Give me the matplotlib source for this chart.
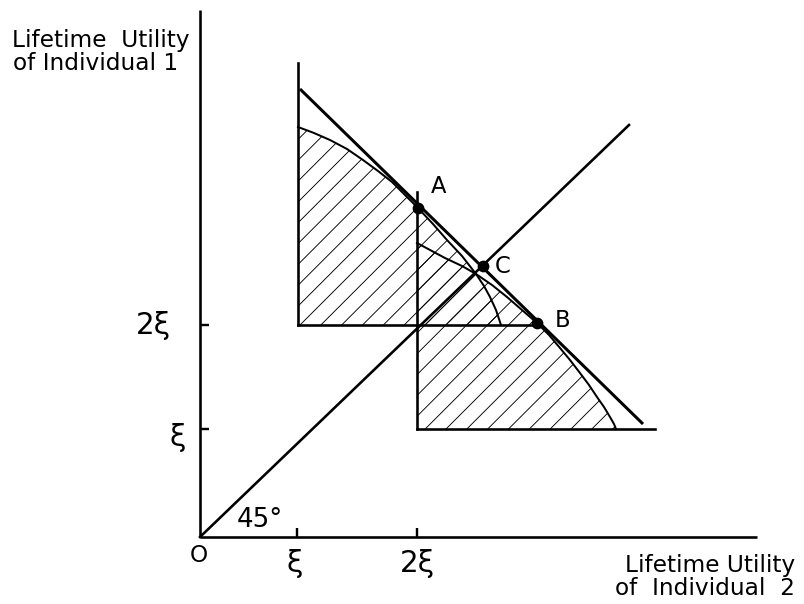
import matplotlib
matplotlib.use("Agg")
import matplotlib.pyplot as plt

# units: 1 unit = 1 px of the reference, origin at the axes corner
DPI = 125
PX = 72 / DPI            # points per pixel

AXIS_TOP, AXIS_RIGHT = 527, 557
XTICKS = [97, 217]       # xi, 2xi on the horizontal axis
YTICKS = [108, 212]      # xi, 2xi on the vertical axis

left_box_x, left_box_top = 98, 474
right_box_x, right_box_top = 217, 345
right_box_end = 455

budget_x = [100, 443]
budget_y = [448, 113]

diag_x = [0, 429]
diag_y = [0, 412]

left_curve_x = [98, 114, 130, 147, 163, 178, 192, 205, 218, 233, 247, 262, 276,
                284, 290, 296, 301]
left_curve_y = [410, 404, 397, 388, 377, 366, 355, 342, 329, 313, 297, 281, 263,
                251, 240, 227, 212]

right_curve_x = [217, 245, 262, 276, 292, 307, 322, 337, 349, 360, 370, 380, 389,
                 397, 404, 410, 414, 416]
right_curve_y = [294, 279, 271, 263, 252, 240, 227, 214, 202, 189, 177, 164, 152,
                 140, 130, 120, 113, 108]

pts_name = ["A", "C", "B"]
pts_x = [218, 283, 337]
pts_y = [329, 271, 214]

INK = "black"
plt.rcParams.update({"font.family": "DejaVu Sans", "hatch.linewidth": 0.9 * PX,
                     "hatch.color": INK})

fig = plt.figure(figsize=(804 / DPI, 604 / DPI), dpi=DPI)
ax = fig.add_axes([0, 0, 1, 1])
ax.set_xlim(-200, 604)
ax.set_ylim(-67, 537)

for s in ("top", "right"):
    ax.spines[s].set_visible(False)
for s in ("left", "bottom"):
    ax.spines[s].set_position(("data", 0))
    ax.spines[s].set_linewidth(2.6 * PX)
    ax.spines[s].set_capstyle("butt")
ax.spines["left"].set_bounds(0, AXIS_TOP)
ax.spines["bottom"].set_bounds(0, AXIS_RIGHT)
ax.set_xticks(XTICKS)
ax.set_yticks(YTICKS)
ax.tick_params(direction="in", length=9 * PX, width=2.4 * PX,
               labelleft=False, labelbottom=False)

# hatched feasible sets
ax.fill([left_box_x] + left_curve_x, [YTICKS[1]] + left_curve_y,
        facecolor="none", edgecolor=INK, hatch="//", linewidth=0)
ax.fill([right_box_x] + right_curve_x, [YTICKS[0]] + right_curve_y,
        facecolor="none", edgecolor=INK, hatch="//", linewidth=0)

lw_box = 2.6 * PX
ax.plot([left_box_x, left_box_x], [YTICKS[1], left_box_top], color=INK, lw=lw_box)
ax.plot([left_box_x, pts_x[2]], [YTICKS[1], YTICKS[1]], color=INK, lw=lw_box)
ax.plot([right_box_x, right_box_x], [YTICKS[0], right_box_top], color=INK, lw=lw_box)
ax.plot([right_box_x, right_box_end], [YTICKS[0], YTICKS[0]], color=INK, lw=lw_box)

ax.plot(left_curve_x, left_curve_y, color=INK, lw=2.0 * PX)
ax.plot(right_curve_x, right_curve_y, color=INK, lw=2.0 * PX)
ax.plot(budget_x, budget_y, color=INK, lw=3.0 * PX, solid_capstyle="butt")
ax.plot(diag_x, diag_y, color=INK, lw=2.6 * PX)

ax.plot(pts_x, pts_y, "o", color=INK, ms=10 * PX)
lab_off = {"A": (13, 15), "C": (12, -7), "B": (18, -4)}
for n, x, y in zip(pts_name, pts_x, pts_y):
    dx, dy = lab_off[n]
    ax.text(x + dx, y + dy, n, fontsize=13, ha="left", va="baseline")

FS = 13.4
ax.text(-188, 490, "Lifetime  Utility", fontsize=FS, va="baseline")
ax.text(-187, 467, "of Individual 1", fontsize=FS, va="baseline")
ax.text(595, -35, "Lifetime Utility", fontsize=FS, ha="right", va="baseline")
ax.text(595, -58, "of  Individual  2", fontsize=FS, ha="right", va="baseline")

ax.text(-1, -18, "O", fontsize=FS, ha="center", va="center")
ax.text(XTICKS[0] - 2, -27, "ξ", fontsize=17, ha="center", va="center")
ax.text(XTICKS[1], -27, "2ξ", fontsize=17, ha="center", va="center")
ax.text(-29, 211, "2ξ", fontsize=17, ha="right", va="center")
ax.text(-14, 100, "ξ", fontsize=17, ha="right", va="center")
ax.text(37, 10, "45°", fontsize=15, ha="left", va="baseline")

fig.savefig("out.png", dpi=DPI)
